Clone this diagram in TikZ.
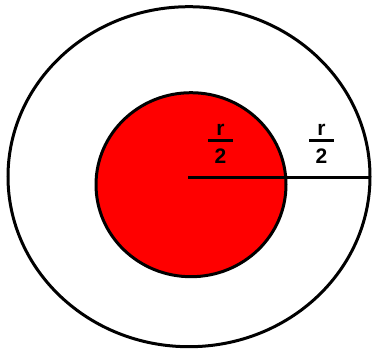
\documentclass[tikz,border=0pt]{standalone}
\usepackage{fontspec}
\setmainfont{Liberation Sans}
\usetikzlibrary{shapes.geometric}
\begin{document}
\begin{tikzpicture}[x=1pt,y=-1pt,
  ring/.style={draw=black,line width=3pt,ellipse,inner sep=0pt},
  lbl/.style={font=\fontsize{21}{21}\selectfont\bfseries,inner sep=0pt,anchor=base},
  bar/.style={line width=3pt}]
\useasboundingbox (0,0) rectangle (372,349);
\node[ring,minimum width=362pt,minimum height=340pt] (outer) at (189,176.7) {};
\node[ring,fill=red,minimum width=190pt,minimum height=184pt] (inner) at (191,184.7) {};
\coordinate (c) at (188,177);
\coordinate (e) at (371,177);
\draw[bar] (c) -- (e);
% left label
\node[lbl] (r1) at (220.5,135) {r};
\node[lbl] (d1) at (220.5,163.3) {2};
\coordinate (b1l) at (208,140);
\coordinate (b1r) at (233,140);
\draw[bar] (b1l) -- (b1r);
% right label
\node[lbl] (r2) at (321.5,135) {r};
\node[lbl] (d2) at (321.5,163.3) {2};
\coordinate (b2l) at (309,140);
\coordinate (b2r) at (334,140);
\draw[bar] (b2l) -- (b2r);
\end{tikzpicture}
\end{document}
